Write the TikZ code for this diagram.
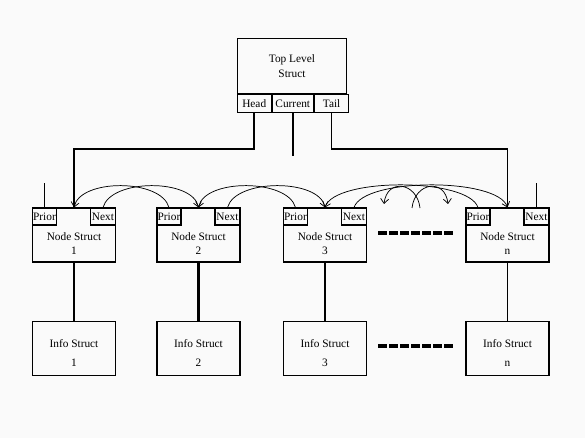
\documentclass[tikz,border=0pt]{standalone}
\usepackage{fontspec}
\setmainfont{Liberation Serif}
\usetikzlibrary{arrows.meta}
\newdimen\pu \pu=0.75pt
\definecolor{bg}{RGB}{250,250,250}
\begin{document}
\begin{tikzpicture}[x=0.75pt,y=-0.75pt,
  box/.style={draw=black, line width=0.8pt, inner sep=0pt},
  lbl/.style={inner sep=0pt, align=center, font=\fontsize{8.5}{10.5}\selectfont},
  toplbl/.style={inner sep=0pt, align=center, font=\fontsize{8.5}{11}\selectfont},
  infolbl/.style={inner sep=0pt, align=center, font=\fontsize{8.5}{14.25}\selectfont},
  thk/.style={line width=1.6pt},
  mid/.style={line width=1.25pt},
  thin/.style={line width=0.7pt},
  arc/.style={line width=0.55pt, -{Straight Barb[length=3.5pt,width=6pt,line width=0.55pt]}},
  dashrow/.style={line width=2.7pt, dash pattern=on 6.75pt off 1.5pt}
]
\fill[bg] (0,0) rectangle (585,438);
\useasboundingbox (0,0) rectangle (585,438);

% top level struct
\node[box, toplbl, anchor=north west, minimum width=109.5\pu, minimum height=54.7\pu] (top) at (236.7,38) {Top Level\\Struct};
\node[box, lbl, anchor=north west, minimum width=34\pu, minimum height=18.5\pu] (head) at (top.south west) {Head};
\node[box, lbl, anchor=north west, minimum width=41\pu, minimum height=18.5\pu] (current) at (head.north east) {Current};
\node[box, lbl, anchor=north west, minimum width=34.5\pu, minimum height=18.5\pu] (tail) at (current.north east) {Tail};

% node structs and info structs
\foreach \i/\x/\l in {1/74/1, 2/198.5/2, 3/325/3, n/507.5/n}{
  \node[box, minimum width=83\pu, minimum height=54\pu] (n\i) at (\x,235) {};
  \node[box, lbl, anchor=north west, minimum width=24\pu, minimum height=17\pu] (p\i) at (n\i.north west) {Prior};
  \node[box, lbl, anchor=north east, minimum width=25\pu, minimum height=17\pu] (x\i) at (n\i.north east) {Next};
  \node[lbl] (t\i) at (\x,244) {Node Struct\\\l};
  \node[box, minimum width=83\pu, minimum height=54\pu] (i\i) at (\x,348.5) {};
  \node[infolbl] (it\i) at (\x,353) {Info Struct\\\l};
}

% head / current / tail connectors
\draw[thk] (head.south) -- ++(0,36) -| (n1.north);
\coordinate (cend) at (293,156);
\draw[thk] (cend |- current.south) -- (cend);
\draw[mid] (tail.south) -- ++(0,36) -| (nn.north);

% end ticks
\path (p1.north) ++(0,-24) coordinate (ptick);
\draw[thin] (p1.north) -- (ptick);
\path (xn.north) ++(0,-24) coordinate (ntick);
\draw[thin] (xn.north) -- (ntick);

% node to info
\draw[mid] (n1.south) -- (i1.north);
\draw[thk] (n2.south) -- (i2.north);
\draw[mid] (n3.south) -- (i3.north);
\draw[mid] (nn.south) -- (in.north);

% linking arcs
\draw[arc] (x1.north) .. controls +(8,-29) and +(-6,-29) .. (n2.north);
\draw[arc] (p2.north) .. controls +(-8,-29) and +(6,-29) .. (n1.north);
\draw[arc] (x2.north) .. controls +(8,-29) and +(-6,-29) .. (n3.north);
\draw[arc] (p3.north) .. controls +(-8,-29) and +(6,-29) .. (n2.north);
\draw[arc] (x3.north) .. controls +(10,-30) and +(-10,-30) .. (nn.north);
\draw[arc] (pn.north) .. controls +(-10,-30) and +(10,-30) .. (n3.north);

% elided arcs
\coordinate (a1s) at (420,208);
\coordinate (a1e) at (384,204);
\coordinate (a2s) at (412,208);
\coordinate (a2e) at (448,204);
\draw[arc] (a1s) .. controls +(-3,-26) and +(3,-26) .. (a1e);
\draw[arc] (a2s) .. controls +(3,-26) and +(-3,-26) .. (a2e);

% ellipsis dashes
\draw[dashrow] (378,233) -- (453,233);
\draw[dashrow] (378,346) -- (453,346);
\end{tikzpicture}
\end{document}
